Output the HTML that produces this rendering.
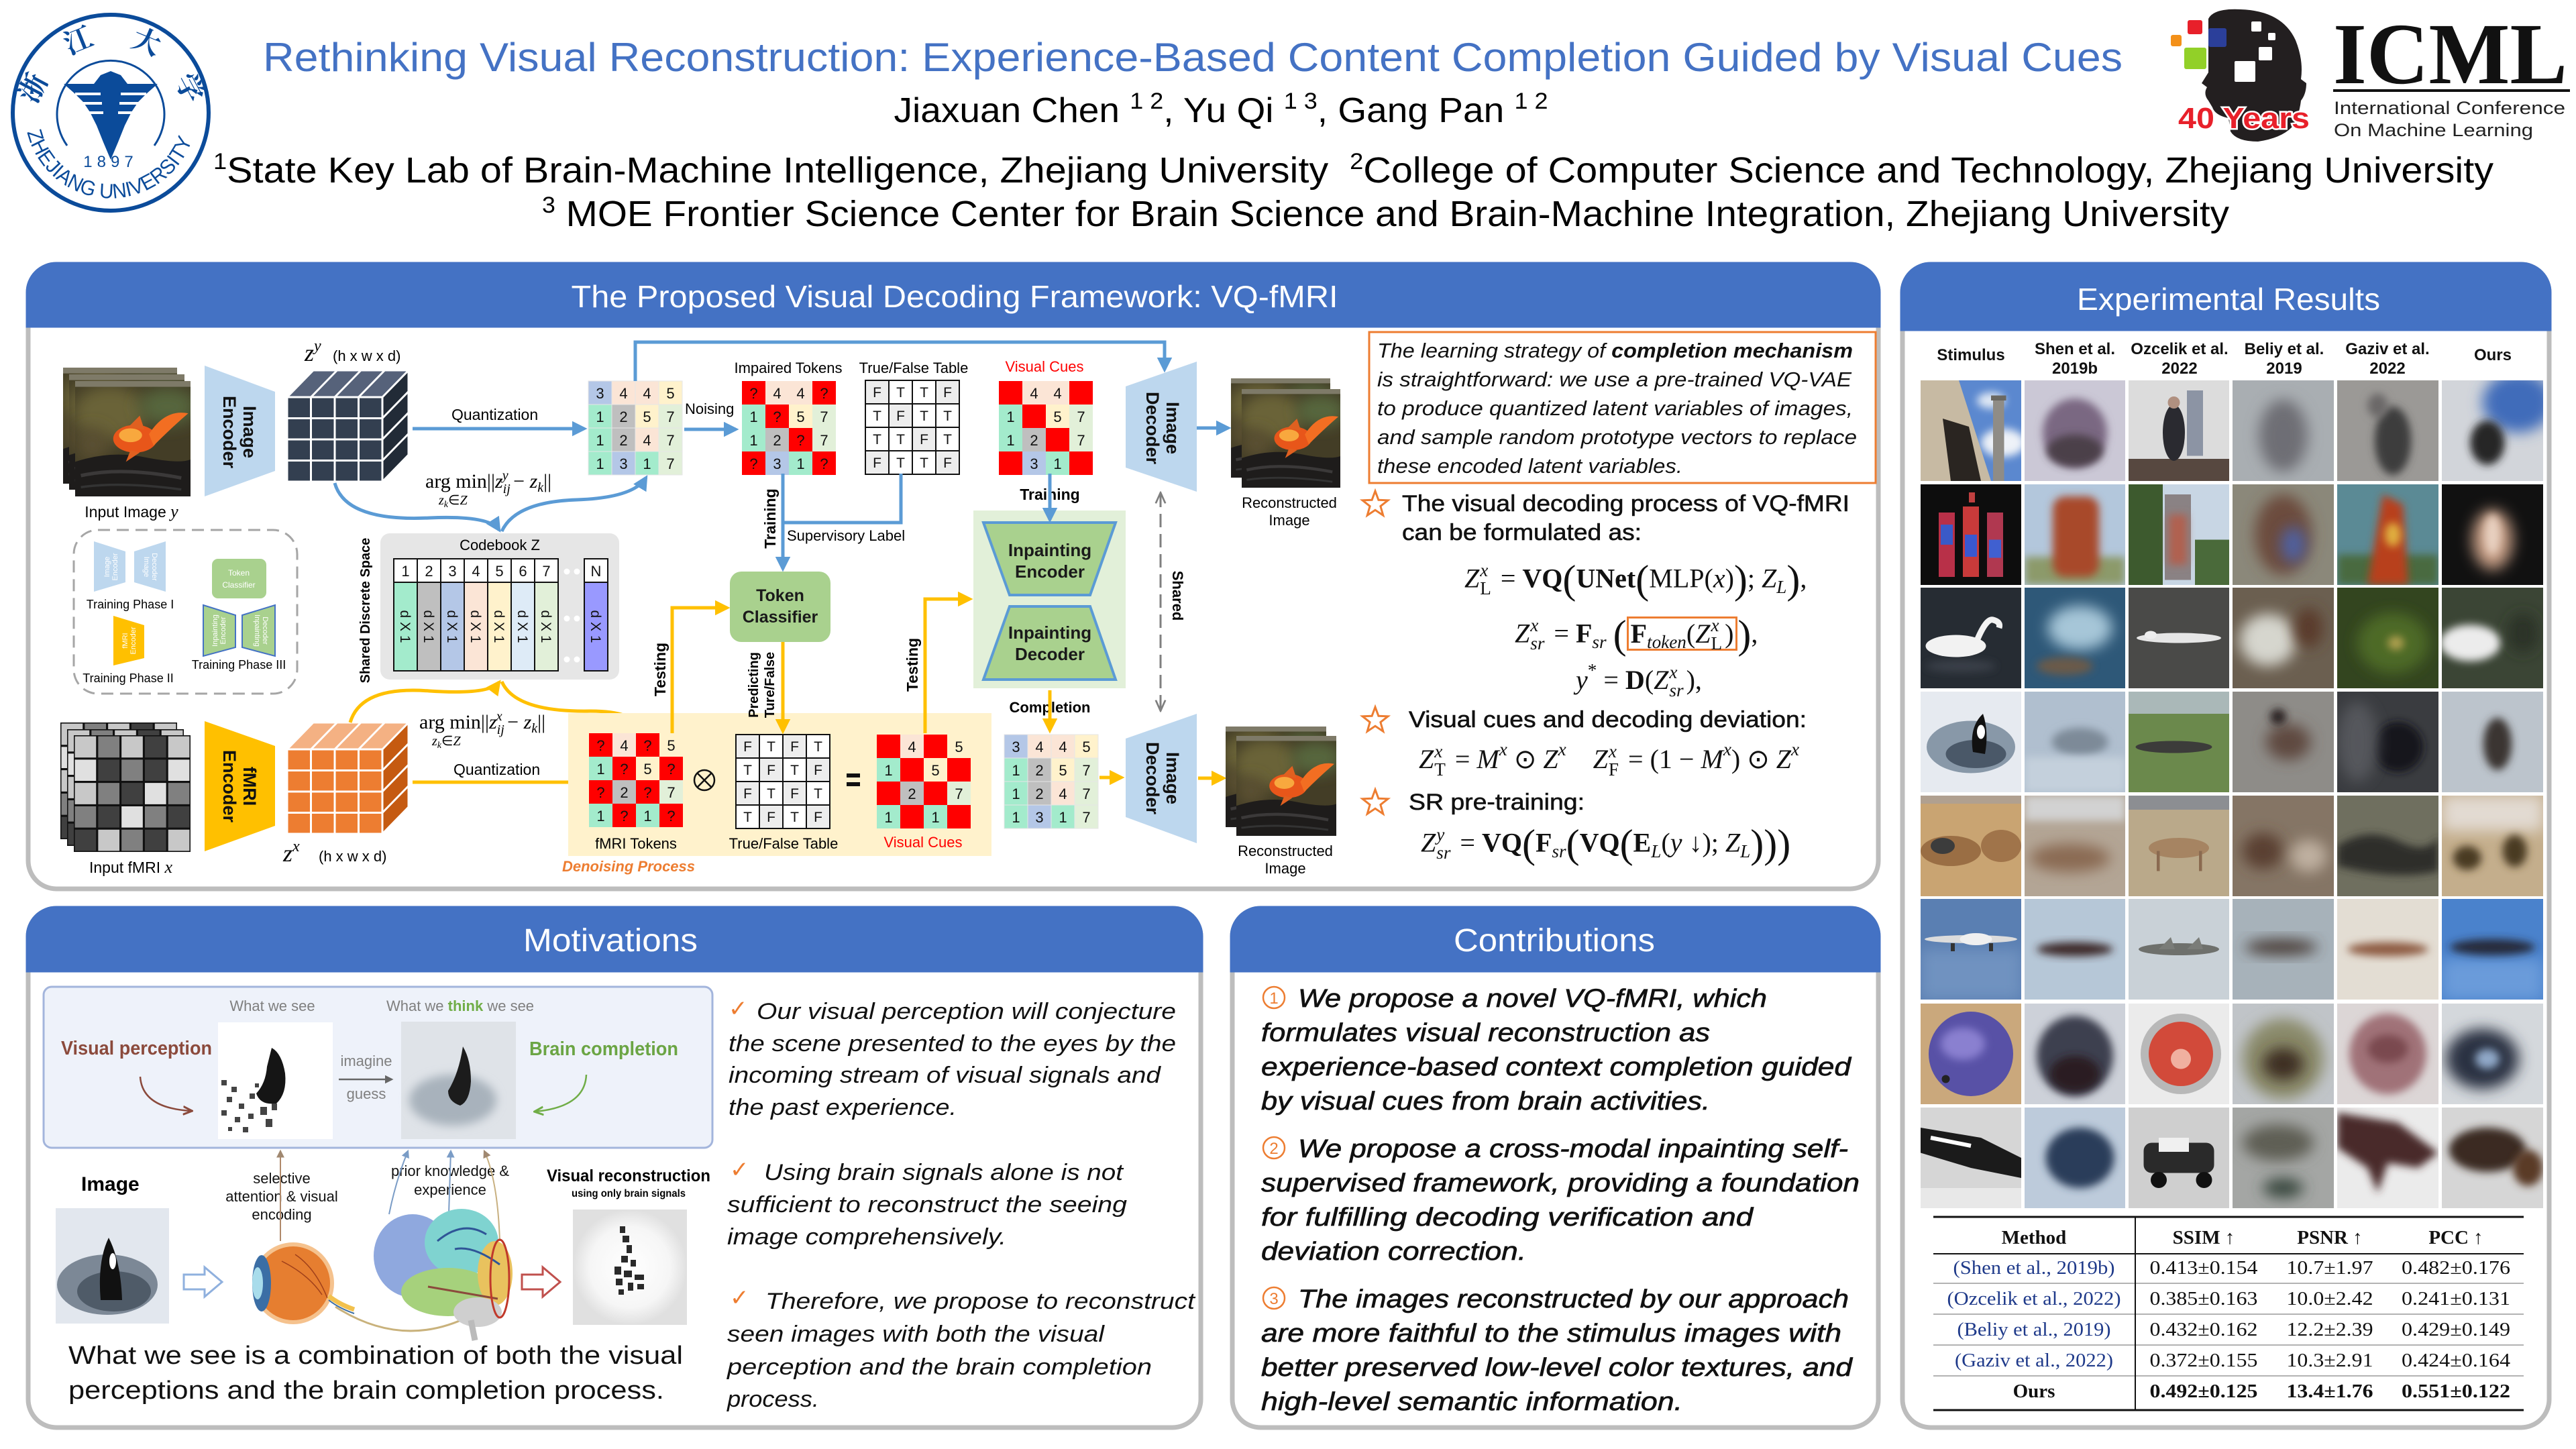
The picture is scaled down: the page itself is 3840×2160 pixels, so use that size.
<!DOCTYPE html>
<html><head><meta charset="utf-8">
<style>
html,body{margin:0;padding:0;background:#fff;}
#root{position:relative;width:3840px;height:2160px;overflow:hidden;background:#fff;font-family:"Liberation Sans",sans-serif;}
svg#main{position:absolute;left:0;top:0;}
.eq{position:absolute;font-family:"Liberation Serif",serif;font-size:40px;white-space:nowrap;color:#111;line-height:1;}
.eq i{font-style:italic}
.eq b{font-weight:bold}
.ss{display:inline-block;vertical-align:-0.4em;font-size:0.68em;line-height:1.0;margin-left:1px;margin-right:4px;text-align:left}
.ss span{display:block}
.bp{font-size:1.5em;vertical-align:-0.14em;font-weight:normal;font-style:normal}
.sb{font-size:0.68em;vertical-align:-0.3em}
.sp{font-size:0.68em;vertical-align:0.7em}
</style></head>
<body><div id="root">
<svg id="main" width="3840" height="2160" viewBox="0 0 3840 2160" font-family="Liberation Sans, sans-serif">
<defs>
<filter id="b4" x="-50%" y="-50%" width="200%" height="200%"><feGaussianBlur stdDeviation="4"/></filter>
<filter id="b6" x="-50%" y="-50%" width="200%" height="200%"><feGaussianBlur stdDeviation="7"/></filter>
<filter id="b3" x="-50%" y="-50%" width="200%" height="200%"><feGaussianBlur stdDeviation="3"/></filter>
<marker id="mb" viewBox="0 0 10 10" refX="8" refY="5" markerWidth="4.5" markerHeight="4.5" orient="auto"><path d="M0,0L10,5L0,10z" fill="#5B9BD5"/></marker>
<marker id="my" viewBox="0 0 10 10" refX="8" refY="5" markerWidth="4.5" markerHeight="4.5" orient="auto"><path d="M0,0L10,5L0,10z" fill="#FFC000"/></marker>
<marker id="mg" viewBox="0 0 10 10" refX="8" refY="5" markerWidth="6" markerHeight="6" orient="auto-start-reverse"><path d="M0,1L9,5L0,9" fill="none" stroke="#7F7F7F" stroke-width="1.5"/></marker>
<marker id="mgr" viewBox="0 0 10 10" refX="8" refY="5" markerWidth="5" markerHeight="5" orient="auto"><path d="M0,0L10,5L0,10z" fill="#666"/></marker>
<marker id="mbr" viewBox="0 0 10 10" refX="8" refY="5" markerWidth="6" markerHeight="6" orient="auto"><path d="M0,1L9,5L0,9" fill="none" stroke="#8B4A3C" stroke-width="2"/></marker>
<marker id="mgn" viewBox="0 0 10 10" refX="8" refY="5" markerWidth="6" markerHeight="6" orient="auto"><path d="M0,1L9,5L0,9" fill="none" stroke="#70AD47" stroke-width="2"/></marker>
<marker id="mt" viewBox="0 0 10 10" refX="8" refY="5" markerWidth="6" markerHeight="6" orient="auto"><path d="M0,0L10,5L0,10z" fill="#A08870"/></marker>
<marker id="mt2" viewBox="0 0 10 10" refX="8" refY="5" markerWidth="6" markerHeight="6" orient="auto"><path d="M0,0L10,5L0,10z" fill="#7A9CC6"/></marker>
<path id="star" d="M0,-20 L4.9,-6.7 L19,-6.2 L7.9,2.6 L11.8,16.2 L0,8.3 L-11.8,16.2 L-7.9,2.6 L-19,-6.2 L-4.9,-6.7 Z" fill="none" stroke="#ED7D31" stroke-width="3"/>
<symbol id="fish" viewBox="0 0 100 100" preserveAspectRatio="none">
<rect width="100" height="100" fill="#433d26"/>
<ellipse cx="30" cy="28" rx="32" ry="24" fill="#6a6438" filter="url(#b6)"/>
<ellipse cx="80" cy="22" rx="25" ry="16" fill="#56663e" filter="url(#b6)"/>
<ellipse cx="15" cy="55" rx="15" ry="15" fill="#5a5030" filter="url(#b6)"/>
<path d="M0,70 Q30,60 60,66 T100,68 V100 H0 Z" fill="#1e1c1b"/>
<path d="M5,82 Q40,74 92,84" stroke="#3b3939" stroke-width="3" fill="none"/>
<path d="M5,92 Q40,87 92,94" stroke="#333" stroke-width="2" fill="none"/>
<ellipse cx="52" cy="50" rx="19" ry="12" fill="#e8561a"/>
<ellipse cx="48" cy="47" rx="10" ry="6" fill="#f8a83e"/>
<path d="M64,46 Q78,24 98,28 Q84,40 68,56 Z" fill="#f26e22"/>
<path d="M46,40 L56,30 L60,42 Z" fill="#e06020"/>
<path d="M48,60 L44,70 L56,62 Z" fill="#e06020"/>
<rect width="100" height="5" fill="#7e7a68"/>
</symbol>
<symbol id="fm" viewBox="0 0 5 5" preserveAspectRatio="none">
<rect x="0" y="0" width="1" height="1" fill="#c8c8c8"/><rect x="1" y="0" width="1" height="1" fill="#808080"/><rect x="2" y="0" width="1" height="1" fill="#c8c8c8"/><rect x="3" y="0" width="1" height="1" fill="#404040"/><rect x="4" y="0" width="1" height="1" fill="#c8c8c8"/>
<rect x="0" y="1" width="1" height="1" fill="#e0e0e0"/><rect x="1" y="1" width="1" height="1" fill="#404040"/><rect x="2" y="1" width="1" height="1" fill="#808080"/><rect x="3" y="1" width="1" height="1" fill="#404040"/><rect x="4" y="1" width="1" height="1" fill="#e0e0e0"/>
<rect x="0" y="2" width="1" height="1" fill="#c8c8c8"/><rect x="1" y="2" width="1" height="1" fill="#808080"/><rect x="2" y="2" width="1" height="1" fill="#404040"/><rect x="3" y="2" width="1" height="1" fill="#e0e0e0"/><rect x="4" y="2" width="1" height="1" fill="#808080"/>
<rect x="0" y="3" width="1" height="1" fill="#808080"/><rect x="1" y="3" width="1" height="1" fill="#404040"/><rect x="2" y="3" width="1" height="1" fill="#e0e0e0"/><rect x="3" y="3" width="1" height="1" fill="#808080"/><rect x="4" y="3" width="1" height="1" fill="#404040"/>
<rect x="0" y="4" width="1" height="1" fill="#404040"/><rect x="1" y="4" width="1" height="1" fill="#c8c8c8"/><rect x="2" y="4" width="1" height="1" fill="#808080"/><rect x="3" y="4" width="1" height="1" fill="#404040"/><rect x="4" y="4" width="1" height="1" fill="#c8c8c8"/>
<path d="M0,0H5V5H0Z M1,0V5 M2,0V5 M3,0V5 M4,0V5 M0,1H5 M0,2H5 M0,3H5 M0,4H5" fill="none" stroke="#111" stroke-width="0.09"/>
</symbol>
<radialGradient id="rg" cx="50%" cy="50%" r="50%"><stop offset="0" stop-color="#ffffff"/><stop offset="0.7" stop-color="#f6f6f6"/><stop offset="1" stop-color="#e0e0e0"/></radialGradient>
</defs>

<!-- ================= HEADER ================= -->
<g>
<circle cx="165" cy="168" r="146" fill="none" stroke="#0B4B9A" stroke-width="6"/>
<path d="M100,217 A80,80 0 1 1 230,217" fill="none" stroke="#0B4B9A" stroke-width="3"/>
<path d="M95,125 L140,125 L150,112 L165,106 L180,112 L190,125 L235,125 L218,140 L206,152 L196,167 L186,187 L176,212 L165,238 L154,212 L144,187 L134,167 L124,152 L112,140 Z" fill="#0B4B9A"/>
<path d="M112,140 L150,140 M122,154 L152,154 M132,168 L154,168 M180,140 L218,140 M178,154 L208,154 M176,168 L198,168" stroke="#fff" stroke-width="4"/>
<g font-family="Noto Serif CJK SC, Noto Sans CJK SC, serif" font-weight="bold" font-size="42" fill="#0B4B9A" text-anchor="middle">
<text transform="translate(62,138) rotate(-62)">浙</text>
<text transform="translate(122,74) rotate(-22)">江</text>
<text transform="translate(213,76) rotate(22)">大</text>
<text transform="translate(270,138) rotate(62)">学</text>
</g>
<path id="zjuarc" d="M40,195 A128,128 0 0 0 290,195" fill="none"/>
<text font-size="31" fill="#0B4B9A" font-family="Liberation Sans Narrow, Liberation Sans, sans-serif"><textPath href="#zjuarc" startOffset="2" textLength="330" lengthAdjust="spacingAndGlyphs">ZHEJIANG UNIVERSITY</textPath></text>
<text x="165" y="249" text-anchor="middle" font-size="24" fill="#0B4B9A" letter-spacing="7">1897</text>
</g>

<text x="1778" y="106" text-anchor="middle" font-size="60" fill="#4472C4" textLength="2772" lengthAdjust="spacingAndGlyphs">Rethinking Visual Reconstruction: Experience-Based Content Completion Guided by Visual Cues</text>
<text x="1820" y="182" text-anchor="middle" font-size="52" fill="#000" textLength="975" lengthAdjust="spacingAndGlyphs">Jiaxuan Chen <tspan font-size="34" dy="-20">1 2</tspan><tspan dy="20">, Yu Qi </tspan><tspan font-size="34" dy="-20">1 3</tspan><tspan dy="20">, Gang Pan </tspan><tspan font-size="34" dy="-20">1 2</tspan></text>
<text x="318" y="272" font-size="54" fill="#000" textLength="3399" lengthAdjust="spacingAndGlyphs"><tspan font-size="34" dy="-20">1</tspan><tspan dy="20">State Key Lab of Brain-Machine Intelligence, Zhejiang University&#160; </tspan><tspan font-size="34" dy="-20">2</tspan><tspan dy="20">College of Computer Science and Technology, Zhejiang University</tspan></text>
<text x="808" y="337" font-size="54" fill="#000" textLength="2515" lengthAdjust="spacingAndGlyphs"><tspan font-size="34" dy="-20">3</tspan><tspan dy="20"> MOE Frontier Science Center for Brain Science and Brain-Machine Integration, Zhejiang University</tspan></text>

<!-- ICML logo -->
<g>
<path d="M3292,28 Q3300,12 3340,14 Q3402,16 3422,60 Q3434,90 3430,118 L3438,124 Q3438,140 3430,150 Q3427,175 3416,190 Q3400,206 3366,211 Q3334,211 3325,196 L3322,176 Q3302,172 3298,160 L3292,150 Q3284,140 3290,130 L3282,124 L3292,108 Z" fill="#231F20"/>
<rect x="3356" y="32" width="15" height="15" rx="2" fill="#fff"/>
<rect x="3381" y="49" width="11" height="11" rx="2" fill="#fff"/>
<rect x="3367" y="70" width="20" height="20" rx="2" fill="#fff"/>
<rect x="3331" y="91" width="31" height="31" rx="2" fill="#fff"/>
<rect x="3261" y="30" width="22" height="21" rx="3" fill="#E8202A"/>
<rect x="3292" y="42" width="27" height="28" rx="3" fill="#2B3F9A"/>
<rect x="3236" y="52" width="16" height="17" rx="3" fill="#F39019"/>
<rect x="3256" y="71" width="33" height="32" rx="3" fill="#92D028"/>
<text x="3247" y="191" font-size="44" font-weight="bold" fill="#E8202A" stroke="#fff" stroke-width="5" paint-order="stroke" textLength="196" lengthAdjust="spacingAndGlyphs">40 Years</text>
<text x="3478" y="124" font-family="Liberation Serif, serif" font-weight="bold" font-size="130" fill="#111" textLength="349" lengthAdjust="spacingAndGlyphs">ICML</text>
<rect x="3478" y="133" width="353" height="4" fill="#111"/>
<text x="3479" y="170" font-size="27" fill="#222" textLength="345" lengthAdjust="spacingAndGlyphs">International Conference</text>
<text x="3479" y="203" font-size="27" fill="#222" textLength="297" lengthAdjust="spacingAndGlyphs">On Machine Learning</text>
</g>

<!-- ================= PANELS ================= -->
<rect x="42" y="394" width="2758" height="931" rx="42" fill="#fff" stroke="#BDBDBD" stroke-width="7"/>
<path d="M42,485 V436 A42,42 0 0 1 84,394 H2758 A42,42 0 0 1 2800,436 V485 Z" fill="#4472C4" stroke="#4472C4" stroke-width="7"/>
<text x="1423" y="458" text-anchor="middle" font-size="46" fill="#fff" textLength="1143" lengthAdjust="spacingAndGlyphs">The Proposed Visual Decoding Framework: VQ-fMRI</text>

<rect x="2836" y="394" width="964" height="1734" rx="42" fill="#fff" stroke="#BDBDBD" stroke-width="7"/>
<path d="M2836,490 V436 A42,42 0 0 1 2878,394 H3758 A42,42 0 0 1 3800,436 V490 Z" fill="#4472C4" stroke="#4472C4" stroke-width="7"/>
<text x="3322" y="462" text-anchor="middle" font-size="46" fill="#fff" textLength="452" lengthAdjust="spacingAndGlyphs">Experimental Results</text>

<rect x="42" y="1354" width="1748" height="774" rx="42" fill="#fff" stroke="#BDBDBD" stroke-width="7"/>
<path d="M42,1446 V1396 A42,42 0 0 1 84,1354 H1748 A42,42 0 0 1 1790,1396 V1446 Z" fill="#4472C4" stroke="#4472C4" stroke-width="7"/>
<text x="910" y="1418" text-anchor="middle" font-size="48" fill="#fff" textLength="260" lengthAdjust="spacingAndGlyphs">Motivations</text>

<rect x="1837" y="1354" width="963" height="774" rx="42" fill="#fff" stroke="#BDBDBD" stroke-width="7"/>
<path d="M1837,1446 V1396 A42,42 0 0 1 1879,1354 H2758 A42,42 0 0 1 2800,1396 V1446 Z" fill="#4472C4" stroke="#4472C4" stroke-width="7"/>
<text x="2317" y="1418" text-anchor="middle" font-size="48" fill="#fff" textLength="300" lengthAdjust="spacingAndGlyphs">Contributions</text>

<!-- ================= FRAMEWORK DIAGRAM ================= -->
<use href="#fish" x="94" y="548" width="170" height="173"/>
<use href="#fish" x="103" y="558" width="172" height="172"/>
<use href="#fish" x="112" y="568" width="172" height="172"/>
<text x="196" y="771" text-anchor="middle" font-size="23">Input Image <tspan font-family="Liberation Serif, serif" font-style="italic" font-size="26">y</tspan></text>

<polygon points="305,545 410,584 410,702 305,740" fill="#BDD7EE"/>
<g transform="translate(357,644) rotate(90)" font-size="27" font-weight="bold" text-anchor="middle" fill="#111"><text y="-6">Image</text><text y="24">Encoder</text></g>

<polygon points="428,592 467,552 609,552 570,592" fill="#56627A"/>
<polygon points="570,592 609,552 609,678 570,718" fill="#222B37"/>
<rect x="428" y="592" width="142" height="126" fill="#333F50"/>
<g stroke="#fff" stroke-width="3" fill="none">
<path d="M428,592H570V718H428Z M463.5,592V718 M499,592V718 M534.5,592V718 M428,623.5H570 M428,655H570 M428,686.5H570"/>
<path d="M428,592L467,552H609L570,592 M463.5,592L502.5,552 M499,592L538,552 M534.5,592L573.5,552"/>
<path d="M609,552V678L570,718 M570,623.5L609,583.5 M570,655L609,615 M570,686.5L609,646.5"/>
</g>
<text x="454" y="538" font-family="Liberation Serif, serif" font-style="italic" font-size="36">z<tspan font-size="24" dy="-15">y</tspan></text>
<text x="496" y="538" font-size="22">(h x w x d)</text>

<text x="673" y="626" font-size="23">Quantization</text>
<line x1="615" y1="639" x2="871" y2="639" stroke="#5B9BD5" stroke-width="5" marker-end="url(#mb)"/>

<text x="634" y="727" font-family="Liberation Serif, serif" font-size="30">arg min||<tspan font-style="italic">z</tspan><tspan font-size="20" dy="8" font-style="italic">ij</tspan><tspan font-size="20" dx="-12" dy="-20" font-style="italic">y</tspan><tspan dy="12"> − </tspan><tspan font-style="italic">z</tspan><tspan font-size="20" dy="6" font-style="italic">k</tspan><tspan dy="-6">||</tspan></text>
<text x="654" y="752" font-family="Liberation Serif, serif" font-size="20" font-style="italic">z<tspan font-size="14" dy="4">k</tspan><tspan dy="-4" font-style="normal">∈</tspan>Z</text>
<path d="M499,720 Q515,778 640,772 Q730,768 744,790" stroke="#5B9BD5" stroke-width="5" fill="none" marker-end="url(#mb)"/>
<path d="M748,792 Q768,748 860,745 Q945,742 963,712" stroke="#5B9BD5" stroke-width="5" fill="none" marker-end="url(#mb)"/>

<g font-size="22" text-anchor="middle" fill="#111" stroke-width="1">
<rect x="877" y="568" width="35" height="35" fill="#B4C7E7" stroke="#e6e6e6"/><text x="894.5" y="594">3</text>
<rect x="912" y="568" width="35" height="35" fill="#FBE5D6" stroke="#e6e6e6"/><text x="929.5" y="594">4</text>
<rect x="947" y="568" width="35" height="35" fill="#FBE5D6" stroke="#e6e6e6"/><text x="964.5" y="594">4</text>
<rect x="982" y="568" width="35" height="35" fill="#FFF2CC" stroke="#e6e6e6"/><text x="999.5" y="594">5</text>
<rect x="877" y="603" width="35" height="35" fill="#A3EBCC" stroke="#e6e6e6"/><text x="894.5" y="629">1</text>
<rect x="912" y="603" width="35" height="35" fill="#BFBFBF" stroke="#e6e6e6"/><text x="929.5" y="629">2</text>
<rect x="947" y="603" width="35" height="35" fill="#FFF2CC" stroke="#e6e6e6"/><text x="964.5" y="629">5</text>
<rect x="982" y="603" width="35" height="35" fill="#E2F0D9" stroke="#e6e6e6"/><text x="999.5" y="629">7</text>
<rect x="877" y="638" width="35" height="35" fill="#A3EBCC" stroke="#e6e6e6"/><text x="894.5" y="664">1</text>
<rect x="912" y="638" width="35" height="35" fill="#BFBFBF" stroke="#e6e6e6"/><text x="929.5" y="664">2</text>
<rect x="947" y="638" width="35" height="35" fill="#FBE5D6" stroke="#e6e6e6"/><text x="964.5" y="664">4</text>
<rect x="982" y="638" width="35" height="35" fill="#E2F0D9" stroke="#e6e6e6"/><text x="999.5" y="664">7</text>
<rect x="877" y="673" width="35" height="35" fill="#A3EBCC" stroke="#e6e6e6"/><text x="894.5" y="699">1</text>
<rect x="912" y="673" width="35" height="35" fill="#B4C7E7" stroke="#e6e6e6"/><text x="929.5" y="699">3</text>
<rect x="947" y="673" width="35" height="35" fill="#A3EBCC" stroke="#e6e6e6"/><text x="964.5" y="699">1</text>
<rect x="982" y="673" width="35" height="35" fill="#E2F0D9" stroke="#e6e6e6"/><text x="999.5" y="699">7</text>
</g>

<path d="M947,568 V510 H1736 V551" stroke="#5B9BD5" stroke-width="5" fill="none" marker-end="url(#mb)"/>

<text x="1021" y="617" font-size="22">Noising</text>
<line x1="1020" y1="640" x2="1097" y2="640" stroke="#5B9BD5" stroke-width="5" marker-end="url(#mb)"/>

<text x="1175" y="556" text-anchor="middle" font-size="22">Impaired Tokens</text>
<g font-size="22" text-anchor="middle" fill="#111">
<rect x="1106" y="568" width="35" height="35" fill="#FF0000"/><text x="1123.5" y="594">?</text>
<rect x="1141" y="568" width="35" height="35" fill="#FBE5D6"/><text x="1158.5" y="594">4</text>
<rect x="1176" y="568" width="35" height="35" fill="#FBE5D6"/><text x="1193.5" y="594">4</text>
<rect x="1211" y="568" width="35" height="35" fill="#FF0000"/><text x="1228.5" y="594">?</text>
<rect x="1106" y="603" width="35" height="35" fill="#A3EBCC"/><text x="1123.5" y="629">1</text>
<rect x="1141" y="603" width="35" height="35" fill="#FF0000"/><text x="1158.5" y="629">?</text>
<rect x="1176" y="603" width="35" height="35" fill="#FFF2CC"/><text x="1193.5" y="629">5</text>
<rect x="1211" y="603" width="35" height="35" fill="#E2F0D9"/><text x="1228.5" y="629">7</text>
<rect x="1106" y="638" width="35" height="35" fill="#A3EBCC"/><text x="1123.5" y="664">1</text>
<rect x="1141" y="638" width="35" height="35" fill="#BFBFBF"/><text x="1158.5" y="664">2</text>
<rect x="1176" y="638" width="35" height="35" fill="#FF0000"/><text x="1193.5" y="664">?</text>
<rect x="1211" y="638" width="35" height="35" fill="#E2F0D9"/><text x="1228.5" y="664">7</text>
<rect x="1106" y="673" width="35" height="35" fill="#FF0000"/><text x="1123.5" y="699">?</text>
<rect x="1141" y="673" width="35" height="35" fill="#B4C7E7"/><text x="1158.5" y="699">3</text>
<rect x="1176" y="673" width="35" height="35" fill="#A3EBCC"/><text x="1193.5" y="699">1</text>
<rect x="1211" y="673" width="35" height="35" fill="#FF0000"/><text x="1228.5" y="699">?</text>
</g>

<text x="1362" y="556" text-anchor="middle" font-size="22">True/False Table</text>
<g font-size="21" text-anchor="middle" fill="#111" stroke="#111" stroke-width="2">
<rect x="1290" y="567" width="35" height="35" fill="#EDEDED"/><rect x="1325" y="567" width="35" height="35" fill="#fff"/><rect x="1360" y="567" width="35" height="35" fill="#fff"/><rect x="1395" y="567" width="35" height="35" fill="#EDEDED"/>
<rect x="1290" y="602" width="35" height="35" fill="#fff"/><rect x="1325" y="602" width="35" height="35" fill="#EDEDED"/><rect x="1360" y="602" width="35" height="35" fill="#fff"/><rect x="1395" y="602" width="35" height="35" fill="#fff"/>
<rect x="1290" y="637" width="35" height="35" fill="#fff"/><rect x="1325" y="637" width="35" height="35" fill="#fff"/><rect x="1360" y="637" width="35" height="35" fill="#EDEDED"/><rect x="1395" y="637" width="35" height="35" fill="#fff"/>
<rect x="1290" y="672" width="35" height="35" fill="#EDEDED"/><rect x="1325" y="672" width="35" height="35" fill="#fff"/><rect x="1360" y="672" width="35" height="35" fill="#fff"/><rect x="1395" y="672" width="35" height="35" fill="#EDEDED"/>
</g>
<g font-size="21" text-anchor="middle" fill="#111">
<text x="1307.5" y="592">F</text><text x="1342.5" y="592">T</text><text x="1377.5" y="592">T</text><text x="1412.5" y="592">F</text>
<text x="1307.5" y="627">T</text><text x="1342.5" y="627">F</text><text x="1377.5" y="627">T</text><text x="1412.5" y="627">T</text>
<text x="1307.5" y="662">T</text><text x="1342.5" y="662">T</text><text x="1377.5" y="662">F</text><text x="1412.5" y="662">T</text>
<text x="1307.5" y="697">F</text><text x="1342.5" y="697">T</text><text x="1377.5" y="697">T</text><text x="1412.5" y="697">F</text>
</g>

<text x="1557" y="554" text-anchor="middle" font-size="22" fill="#FF0000">Visual Cues</text>
<g font-size="22" text-anchor="middle" fill="#111">
<rect x="1489" y="568" width="35" height="35" fill="#FF0000"/>
<rect x="1524" y="568" width="35" height="35" fill="#FBE5D6"/><text x="1541.5" y="594">4</text>
<rect x="1559" y="568" width="35" height="35" fill="#FBE5D6"/><text x="1576.5" y="594">4</text>
<rect x="1594" y="568" width="35" height="35" fill="#FF0000"/>
<rect x="1489" y="603" width="35" height="35" fill="#A3EBCC"/><text x="1506.5" y="629">1</text>
<rect x="1524" y="603" width="35" height="35" fill="#FF0000"/>
<rect x="1559" y="603" width="35" height="35" fill="#FFF2CC"/><text x="1576.5" y="629">5</text>
<rect x="1594" y="603" width="35" height="35" fill="#E2F0D9"/><text x="1611.5" y="629">7</text>
<rect x="1489" y="638" width="35" height="35" fill="#A3EBCC"/><text x="1506.5" y="664">1</text>
<rect x="1524" y="638" width="35" height="35" fill="#BFBFBF"/><text x="1541.5" y="664">2</text>
<rect x="1559" y="638" width="35" height="35" fill="#FF0000"/>
<rect x="1594" y="638" width="35" height="35" fill="#E2F0D9"/><text x="1611.5" y="664">7</text>
<rect x="1489" y="673" width="35" height="35" fill="#FF0000"/>
<rect x="1524" y="673" width="35" height="35" fill="#B4C7E7"/><text x="1541.5" y="699">3</text>
<rect x="1559" y="673" width="35" height="35" fill="#A3EBCC"/><text x="1576.5" y="699">1</text>
<rect x="1594" y="673" width="35" height="35" fill="#FF0000"/>
</g>

<polygon points="1678,576 1784,539 1784,733 1678,697" fill="#BDD7EE"/>
<g transform="translate(1733,638) rotate(90)" font-size="27" font-weight="bold" text-anchor="middle" fill="#111"><text y="-6">Image</text><text y="24">Decoder</text></g>
<line x1="1784" y1="638" x2="1831" y2="638" stroke="#5B9BD5" stroke-width="5" marker-end="url(#mb)"/>
<use href="#fish" x="1835" y="564" width="148" height="148"/>
<use href="#fish" x="1851" y="580" width="147" height="147"/>
<text x="1922" y="757" text-anchor="middle" font-size="22">Reconstructed</text>
<text x="1922" y="783" text-anchor="middle" font-size="22">Image</text>

<rect x="567" y="795" width="356" height="218" rx="14" fill="#E6E6E6"/>
<text x="745" y="820" text-anchor="middle" font-size="22">Codebook Z</text>
<g stroke="#111" stroke-width="2">
<rect x="587" y="833" width="35" height="35" fill="#fff"/><rect x="622" y="833" width="35" height="35" fill="#fff"/><rect x="657" y="833" width="35" height="35" fill="#fff"/><rect x="692" y="833" width="35" height="35" fill="#fff"/><rect x="727" y="833" width="35" height="35" fill="#fff"/><rect x="762" y="833" width="35" height="35" fill="#fff"/><rect x="797" y="833" width="35" height="35" fill="#fff"/><rect x="871" y="833" width="35" height="35" fill="#fff"/>
<rect x="587" y="868" width="35" height="132" fill="#A3EBCC"/><rect x="622" y="868" width="35" height="132" fill="#BFBFBF"/><rect x="657" y="868" width="35" height="132" fill="#B4C7E7"/><rect x="692" y="868" width="35" height="132" fill="#FBE5D6"/><rect x="727" y="868" width="35" height="132" fill="#FFF2CC"/><rect x="762" y="868" width="35" height="132" fill="#DEEBF7"/><rect x="797" y="868" width="35" height="132" fill="#E2F0D9"/><rect x="871" y="868" width="35" height="132" fill="#9999FF"/>
</g>
<g font-size="22" text-anchor="middle" fill="#111">
<text x="604.5" y="859">1</text><text x="639.5" y="859">2</text><text x="674.5" y="859">3</text><text x="709.5" y="859">4</text><text x="744.5" y="859">5</text><text x="779.5" y="859">6</text><text x="814.5" y="859">7</text><text x="888.5" y="859">N</text>
</g>
<g font-size="21" text-anchor="middle" fill="#111">
<text transform="translate(597,934) rotate(90)">d X 1</text><text transform="translate(632,934) rotate(90)">d X 1</text><text transform="translate(667,934) rotate(90)">d X 1</text><text transform="translate(702,934) rotate(90)">d X 1</text><text transform="translate(737,934) rotate(90)">d X 1</text><text transform="translate(772,934) rotate(90)">d X 1</text><text transform="translate(807,934) rotate(90)">d X 1</text><text transform="translate(881,934) rotate(90)">d X 1</text>
</g>
<g fill="#fff"><circle cx="845" cy="852" r="4.5"/><circle cx="860" cy="852" r="4.5"/><circle cx="845" cy="922" r="4.5"/><circle cx="860" cy="922" r="4.5"/><circle cx="845" cy="983" r="4.5"/><circle cx="860" cy="983" r="4.5"/></g>
<text transform="translate(551,910) rotate(-90)" text-anchor="middle" font-size="20" font-weight="bold">Shared Discrete Space</text>

<rect x="110" y="790" width="333" height="244" rx="36" fill="none" stroke="#A6A6A6" stroke-width="3" stroke-dasharray="18 10"/>
<polygon points="140,807 187,822 187,868 140,882" fill="#BDD7EE"/>
<polygon points="200,822 247,807 247,882 200,868" fill="#BDD7EE"/>
<g font-size="11" fill="#fff" text-anchor="middle"><text transform="translate(163,845) rotate(-90)">Image</text><text transform="translate(175,845) rotate(-90)">Encoder</text><text transform="translate(215,845) rotate(90)">Image</text><text transform="translate(227,845) rotate(90)">Decoder</text></g>
<text x="194" y="907" text-anchor="middle" font-size="18">Training Phase I</text>
<rect x="316" y="833" width="81" height="59" rx="9" fill="#A9D18E"/>
<text x="356" y="858" text-anchor="middle" font-size="12" fill="#fff">Token</text><text x="356" y="876" text-anchor="middle" font-size="12" fill="#fff">Classifier</text>
<polygon points="303,902 351,917 351,965 303,978" fill="#A9D18E" stroke="#4472C4" stroke-width="2"/>
<polygon points="361,917 410,902 410,978 361,965" fill="#A9D18E" stroke="#4472C4" stroke-width="2"/>
<g font-size="11" fill="#fff" text-anchor="middle"><text transform="translate(324,940) rotate(-90)">Inpainting</text><text transform="translate(336,940) rotate(-90)">Encoder</text><text transform="translate(380,940) rotate(90)">Inpainting</text><text transform="translate(392,940) rotate(90)">Decoder</text></g>
<text x="356" y="997" text-anchor="middle" font-size="18">Training Phase III</text>
<polygon points="169,918 215,932 215,981 169,992" fill="#FFC000"/>
<g font-size="11" fill="#fff" text-anchor="middle"><text transform="translate(190,955) rotate(-90)">fMRI</text><text transform="translate(202,955) rotate(-90)">Encoder</text></g>
<text x="191" y="1017" text-anchor="middle" font-size="18">Training Phase II</text>

<use href="#fm" x="90" y="1077" width="174" height="174"/>
<use href="#fm" x="100" y="1087" width="174" height="174"/>
<use href="#fm" x="110" y="1096" width="174" height="174"/>
<text x="195" y="1301" text-anchor="middle" font-size="23">Input fMRI <tspan font-family="Liberation Serif, serif" font-style="italic" font-size="26">x</tspan></text>

<polygon points="305,1075 410,1112 410,1231 305,1269" fill="#FFC000"/>
<g transform="translate(357,1172) rotate(90)" font-size="27" font-weight="bold" text-anchor="middle" fill="#111"><text y="-6">fMRI</text><text y="24">Encoder</text></g>

<polygon points="428,1117 467,1077 609,1077 570,1117" fill="#F4B183"/>
<polygon points="570,1117 609,1077 609,1203 570,1243" fill="#C55A11"/>
<rect x="428" y="1117" width="142" height="126" fill="#ED7D31"/>
<g stroke="#fff" stroke-width="3" fill="none">
<path d="M428,1117H570V1243H428Z M463.5,1117V1243 M499,1117V1243 M534.5,1117V1243 M428,1148.5H570 M428,1180H570 M428,1211.5H570"/>
<path d="M428,1117L467,1077H609L570,1117 M463.5,1117L502.5,1077 M499,1117L538,1077 M534.5,1117L573.5,1077"/>
<path d="M609,1077V1203L570,1243 M570,1148.5L609,1108.5 M570,1180L609,1140 M570,1211.5L609,1171.5"/>
</g>
<text x="422" y="1284" font-family="Liberation Serif, serif" font-style="italic" font-size="36">z<tspan font-size="24" dy="-15">x</tspan></text>
<text x="475" y="1284" font-size="22">(h x w x d)</text>

<text x="625" y="1086" font-family="Liberation Serif, serif" font-size="30">arg min||<tspan font-style="italic">z</tspan><tspan font-size="20" dy="8" font-style="italic">ij</tspan><tspan font-size="20" dx="-12" dy="-20" font-style="italic">x</tspan><tspan dy="12"> − </tspan><tspan font-style="italic">z</tspan><tspan font-size="20" dy="6" font-style="italic">k</tspan><tspan dy="-6">||</tspan></text>
<text x="644" y="1111" font-family="Liberation Serif, serif" font-size="20" font-style="italic">z<tspan font-size="14" dy="4">k</tspan><tspan dy="-4" font-style="normal">∈</tspan>Z</text>
<path d="M522,1077 Q538,1022 640,1030 Q730,1036 744,1017" stroke="#FFC000" stroke-width="5" fill="none" marker-end="url(#my)"/>
<path d="M748,1016 Q768,1062 880,1060 Q948,1060 956,1089" stroke="#FFC000" stroke-width="5" fill="none" marker-end="url(#my)"/>
<text x="676" y="1155" font-size="23">Quantization</text>
<line x1="615" y1="1166" x2="874" y2="1166" stroke="#FFC000" stroke-width="5" marker-end="url(#my)"/>

<rect x="847" y="1063" width="631" height="213" fill="#FFF2CC"/>
<g font-size="22" text-anchor="middle" fill="#111">
<rect x="878" y="1093" width="35" height="35" fill="#FF0000"/><text x="895.5" y="1119">?</text>
<rect x="913" y="1093" width="35" height="35" fill="#FBE5D6"/><text x="930.5" y="1119">4</text>
<rect x="948" y="1093" width="35" height="35" fill="#FF0000"/><text x="965.5" y="1119">?</text>
<rect x="983" y="1093" width="35" height="35" fill="#FFF2CC"/><text x="1000.5" y="1119">5</text>
<rect x="878" y="1128" width="35" height="35" fill="#A3EBCC"/><text x="895.5" y="1154">1</text>
<rect x="913" y="1128" width="35" height="35" fill="#FF0000"/><text x="930.5" y="1154">?</text>
<rect x="948" y="1128" width="35" height="35" fill="#FFF2CC"/><text x="965.5" y="1154">5</text>
<rect x="983" y="1128" width="35" height="35" fill="#FF0000"/><text x="1000.5" y="1154">?</text>
<rect x="878" y="1163" width="35" height="35" fill="#FF0000"/><text x="895.5" y="1189">?</text>
<rect x="913" y="1163" width="35" height="35" fill="#BFBFBF"/><text x="930.5" y="1189">2</text>
<rect x="948" y="1163" width="35" height="35" fill="#FF0000"/><text x="965.5" y="1189">?</text>
<rect x="983" y="1163" width="35" height="35" fill="#E2F0D9"/><text x="1000.5" y="1189">7</text>
<rect x="878" y="1198" width="35" height="35" fill="#A3EBCC"/><text x="895.5" y="1224">1</text>
<rect x="913" y="1198" width="35" height="35" fill="#FF0000"/><text x="930.5" y="1224">?</text>
<rect x="948" y="1198" width="35" height="35" fill="#A3EBCC"/><text x="965.5" y="1224">1</text>
<rect x="983" y="1198" width="35" height="35" fill="#FF0000"/><text x="1000.5" y="1224">?</text>
</g>
<text x="948" y="1265" text-anchor="middle" font-size="22">fMRI Tokens</text>
<text x="937" y="1299" text-anchor="middle" font-size="22" font-style="italic" font-weight="bold" fill="#ED7D31">Denoising Process</text>
<circle cx="1050" cy="1163" r="15" fill="none" stroke="#111" stroke-width="2.5"/>
<path d="M1039.4,1152.4 L1060.6,1173.6 M1060.6,1152.4 L1039.4,1173.6" stroke="#111" stroke-width="2.5"/>

<g stroke="#111" stroke-width="2">
<rect x="1097" y="1095" width="35" height="35" fill="#EDEDED"/><rect x="1132" y="1095" width="35" height="35" fill="#fff"/><rect x="1167" y="1095" width="35" height="35" fill="#EDEDED"/><rect x="1202" y="1095" width="35" height="35" fill="#fff"/>
<rect x="1097" y="1130" width="35" height="35" fill="#fff"/><rect x="1132" y="1130" width="35" height="35" fill="#EDEDED"/><rect x="1167" y="1130" width="35" height="35" fill="#fff"/><rect x="1202" y="1130" width="35" height="35" fill="#EDEDED"/>
<rect x="1097" y="1165" width="35" height="35" fill="#EDEDED"/><rect x="1132" y="1165" width="35" height="35" fill="#fff"/><rect x="1167" y="1165" width="35" height="35" fill="#EDEDED"/><rect x="1202" y="1165" width="35" height="35" fill="#fff"/>
<rect x="1097" y="1200" width="35" height="35" fill="#fff"/><rect x="1132" y="1200" width="35" height="35" fill="#EDEDED"/><rect x="1167" y="1200" width="35" height="35" fill="#fff"/><rect x="1202" y="1200" width="35" height="35" fill="#EDEDED"/>
</g>
<g font-size="21" text-anchor="middle" fill="#111">
<text x="1114.5" y="1120">F</text><text x="1149.5" y="1120">T</text><text x="1184.5" y="1120">F</text><text x="1219.5" y="1120">T</text>
<text x="1114.5" y="1155">T</text><text x="1149.5" y="1155">F</text><text x="1184.5" y="1155">T</text><text x="1219.5" y="1155">F</text>
<text x="1114.5" y="1190">F</text><text x="1149.5" y="1190">T</text><text x="1184.5" y="1190">F</text><text x="1219.5" y="1190">T</text>
<text x="1114.5" y="1225">T</text><text x="1149.5" y="1225">F</text><text x="1184.5" y="1225">T</text><text x="1219.5" y="1225">F</text>
</g>
<text x="1168" y="1265" text-anchor="middle" font-size="22">True/False Table</text>
<rect x="1262" y="1153" width="20" height="6" fill="#111"/><rect x="1262" y="1166" width="20" height="6" fill="#111"/>

<g font-size="22" text-anchor="middle" fill="#111">
<rect x="1307" y="1095" width="35" height="35" fill="#FF0000"/>
<rect x="1342" y="1095" width="35" height="35" fill="#FBE5D6"/><text x="1359.5" y="1121">4</text>
<rect x="1377" y="1095" width="35" height="35" fill="#FF0000"/>
<rect x="1412" y="1095" width="35" height="35" fill="#FFF2CC"/><text x="1429.5" y="1121">5</text>
<rect x="1307" y="1130" width="35" height="35" fill="#A3EBCC"/><text x="1324.5" y="1156">1</text>
<rect x="1342" y="1130" width="35" height="35" fill="#FF0000"/>
<rect x="1377" y="1130" width="35" height="35" fill="#FFF2CC"/><text x="1394.5" y="1156">5</text>
<rect x="1412" y="1130" width="35" height="35" fill="#FF0000"/>
<rect x="1307" y="1165" width="35" height="35" fill="#FF0000"/>
<rect x="1342" y="1165" width="35" height="35" fill="#BFBFBF"/><text x="1359.5" y="1191">2</text>
<rect x="1377" y="1165" width="35" height="35" fill="#FF0000"/>
<rect x="1412" y="1165" width="35" height="35" fill="#E2F0D9"/><text x="1429.5" y="1191">7</text>
<rect x="1307" y="1200" width="35" height="35" fill="#A3EBCC"/><text x="1324.5" y="1226">1</text>
<rect x="1342" y="1200" width="35" height="35" fill="#FF0000"/>
<rect x="1377" y="1200" width="35" height="35" fill="#A3EBCC"/><text x="1394.5" y="1226">1</text>
<rect x="1412" y="1200" width="35" height="35" fill="#FF0000"/>
</g>
<text x="1376" y="1263" text-anchor="middle" font-size="22" fill="#FF0000">Visual Cues</text>

<path d="M1167,706 V848" stroke="#5B9BD5" stroke-width="5" fill="none" marker-end="url(#mb)"/>
<path d="M1343,706 V779 H1167" stroke="#5B9BD5" stroke-width="5" fill="none"/>
<text transform="translate(1156,773) rotate(-90)" text-anchor="middle" font-size="23" font-weight="bold">Training</text>
<text x="1173" y="806" font-size="22">Supervisory Label</text>
<rect x="1088" y="852" width="150" height="105" rx="17" fill="#A9D18E"/>
<text x="1163" y="896" text-anchor="middle" font-size="25" font-weight="bold" fill="#1a1a1a">Token</text>
<text x="1163" y="928" text-anchor="middle" font-size="25" font-weight="bold" fill="#1a1a1a">Classifier</text>
<path d="M1002,1093 V906 H1084" stroke="#FFC000" stroke-width="5" fill="none" marker-end="url(#my)"/>
<text transform="translate(992,998) rotate(-90)" text-anchor="middle" font-size="23" font-weight="bold">Testing</text>
<path d="M1167,957 V1090" stroke="#FFC000" stroke-width="5" fill="none" marker-end="url(#my)"/>
<g text-anchor="middle" font-size="20" font-weight="bold" transform="translate(1130,1021) rotate(-90)"><text y="0">Predicting</text><text y="24">Ture/False</text></g>
<path d="M1379,1093 V893 H1446" stroke="#FFC000" stroke-width="5" fill="none" marker-end="url(#my)"/>
<text transform="translate(1368,991) rotate(-90)" text-anchor="middle" font-size="23" font-weight="bold">Testing</text>

<rect x="1451" y="761" width="227" height="265" fill="#E2F0D9"/>
<polygon points="1466,779 1663,779 1625,887 1505,887" fill="#A9D18E" stroke="#5B9BD5" stroke-width="4"/>
<polygon points="1505,904 1625,904 1663,1013 1466,1013" fill="#A9D18E" stroke="#5B9BD5" stroke-width="4"/>
<g text-anchor="middle" font-size="26" font-weight="bold" fill="#1a1a1a">
<text x="1565" y="829">Inpainting</text><text x="1565" y="861">Encoder</text>
<text x="1565" y="952">Inpainting</text><text x="1565" y="984">Decoder</text>
</g>
<text x="1565" y="745" text-anchor="middle" font-size="23" font-weight="bold">Training</text>
<line x1="1565" y1="706" x2="1565" y2="775" stroke="#5B9BD5" stroke-width="5" marker-end="url(#mb)"/>

<line x1="1730" y1="736" x2="1730" y2="1058" stroke="#7F7F7F" stroke-width="3" stroke-dasharray="20 10" marker-start="url(#mg)" marker-end="url(#mg)"/>
<text transform="translate(1748,888) rotate(90)" text-anchor="middle" font-size="22" font-weight="bold">Shared</text>

<text x="1565" y="1062" text-anchor="middle" font-size="22" font-weight="bold">Completion</text>
<line x1="1565" y1="1029" x2="1565" y2="1089" stroke="#FFC000" stroke-width="5" marker-end="url(#my)"/>
<g font-size="22" text-anchor="middle" fill="#111" stroke-width="1">
<rect x="1497" y="1095" width="35" height="35" fill="#B4C7E7" stroke="#e6e6e6"/><text x="1514.5" y="1121">3</text>
<rect x="1532" y="1095" width="35" height="35" fill="#FBE5D6" stroke="#e6e6e6"/><text x="1549.5" y="1121">4</text>
<rect x="1567" y="1095" width="35" height="35" fill="#FBE5D6" stroke="#e6e6e6"/><text x="1584.5" y="1121">4</text>
<rect x="1602" y="1095" width="35" height="35" fill="#FFF2CC" stroke="#e6e6e6"/><text x="1619.5" y="1121">5</text>
<rect x="1497" y="1130" width="35" height="35" fill="#A3EBCC" stroke="#e6e6e6"/><text x="1514.5" y="1156">1</text>
<rect x="1532" y="1130" width="35" height="35" fill="#BFBFBF" stroke="#e6e6e6"/><text x="1549.5" y="1156">2</text>
<rect x="1567" y="1130" width="35" height="35" fill="#FFF2CC" stroke="#e6e6e6"/><text x="1584.5" y="1156">5</text>
<rect x="1602" y="1130" width="35" height="35" fill="#E2F0D9" stroke="#e6e6e6"/><text x="1619.5" y="1156">7</text>
<rect x="1497" y="1165" width="35" height="35" fill="#A3EBCC" stroke="#e6e6e6"/><text x="1514.5" y="1191">1</text>
<rect x="1532" y="1165" width="35" height="35" fill="#BFBFBF" stroke="#e6e6e6"/><text x="1549.5" y="1191">2</text>
<rect x="1567" y="1165" width="35" height="35" fill="#FBE5D6" stroke="#e6e6e6"/><text x="1584.5" y="1191">4</text>
<rect x="1602" y="1165" width="35" height="35" fill="#E2F0D9" stroke="#e6e6e6"/><text x="1619.5" y="1191">7</text>
<rect x="1497" y="1200" width="35" height="35" fill="#A3EBCC" stroke="#e6e6e6"/><text x="1514.5" y="1226">1</text>
<rect x="1532" y="1200" width="35" height="35" fill="#B4C7E7" stroke="#e6e6e6"/><text x="1549.5" y="1226">3</text>
<rect x="1567" y="1200" width="35" height="35" fill="#A3EBCC" stroke="#e6e6e6"/><text x="1584.5" y="1226">1</text>
<rect x="1602" y="1200" width="35" height="35" fill="#E2F0D9" stroke="#e6e6e6"/><text x="1619.5" y="1226">7</text>
</g>
<line x1="1639" y1="1159" x2="1672" y2="1159" stroke="#FFC000" stroke-width="5" marker-end="url(#my)"/>
<polygon points="1678,1101 1784,1064 1784,1257 1678,1218" fill="#BDD7EE"/>
<g transform="translate(1733,1160) rotate(90)" font-size="27" font-weight="bold" text-anchor="middle" fill="#111"><text y="-6">Image</text><text y="24">Decoder</text></g>
<line x1="1786" y1="1160" x2="1824" y2="1160" stroke="#FFC000" stroke-width="5" marker-end="url(#my)"/>
<use href="#fish" x="1827" y="1083" width="150" height="150"/>
<use href="#fish" x="1843" y="1097" width="149" height="149"/>
<text x="1916" y="1276" text-anchor="middle" font-size="22">Reconstructed</text>
<text x="1916" y="1302" text-anchor="middle" font-size="22">Image</text>

<rect x="2041" y="495" width="755" height="225" fill="none" stroke="#ED7D31" stroke-width="3"/>
<g font-size="31" font-style="italic" fill="#111">
<text x="2053" y="533" textLength="709" lengthAdjust="spacingAndGlyphs">The learning strategy of <tspan font-weight="bold">completion mechanism</tspan></text>
<text x="2053" y="576" textLength="707" lengthAdjust="spacingAndGlyphs">is straightforward: we use a pre-trained VQ-VAE</text>
<text x="2053" y="619" textLength="709" lengthAdjust="spacingAndGlyphs">to produce quantized latent variables of images,</text>
<text x="2053" y="662" textLength="715" lengthAdjust="spacingAndGlyphs">and sample random prototype vectors to replace</text>
<text x="2053" y="705" textLength="455" lengthAdjust="spacingAndGlyphs">these encoded latent variables.</text>
</g>
<use href="#star" x="2050" y="752"/>
<use href="#star" x="2050" y="1074"/>
<use href="#star" x="2050" y="1197"/>
<g font-size="34" fill="#111" stroke="#111" stroke-width="0.6">
<text x="2090" y="762" textLength="667" lengthAdjust="spacingAndGlyphs">The visual decoding process of VQ-fMRI</text>
<text x="2090" y="805" textLength="357" lengthAdjust="spacingAndGlyphs">can be formulated as:</text>
<text x="2100" y="1084" textLength="593" lengthAdjust="spacingAndGlyphs">Visual cues and decoding deviation:</text>
<text x="2100" y="1207" textLength="262" lengthAdjust="spacingAndGlyphs">SR pre-training:</text>
</g>

<!-- ================= RESULTS ================= -->
<g font-size="24" font-weight="bold" text-anchor="middle" fill="#111">
<text x="2938" y="537">Stimulus</text>
<text x="3093" y="528">Shen et al.</text><text x="3093" y="557">2019b</text>
<text x="3249" y="528">Ozcelik et al.</text><text x="3249" y="557">2022</text>
<text x="3405" y="528">Beliy et al.</text><text x="3405" y="557">2019</text>
<text x="3559" y="528">Gaziv et al.</text><text x="3559" y="557">2022</text>
<text x="3716" y="537">Ours</text>
</g>

<svg x="2863" y="567" width="150" height="150" viewBox="0 0 100 100" preserveAspectRatio="none"><rect width="100" height="100" fill="#5b88cf"/><ellipse cx="82" cy="62" rx="22" ry="14" fill="#eef2f8" filter="url(#b4)"/><ellipse cx="70" cy="20" rx="14" ry="8" fill="#dfe8f4" filter="url(#b4)"/><polygon points="0,0 38,0 70,100 0,100" fill="#c7baa3"/><polygon points="22,38 48,46 60,100 30,100" fill="#2a2521"/><rect x="72" y="18" width="11" height="82" fill="#8f8c86"/><rect x="70" y="15" width="15" height="5" fill="#6a6862"/></svg>
<svg x="3018" y="567" width="150" height="150" viewBox="0 0 100 100" preserveAspectRatio="none"><rect width="100" height="100" fill="#cbc8d6"/><ellipse cx="50" cy="52" rx="32" ry="34" fill="#7a6882" filter="url(#b4)"/><ellipse cx="50" cy="70" rx="28" ry="16" fill="#4b4049" filter="url(#b4)"/></svg>
<svg x="3173" y="567" width="150" height="150" viewBox="0 0 100 100" preserveAspectRatio="none"><rect width="100" height="100" fill="#dcdcdc"/><rect y="78" width="100" height="22" fill="#574840"/><rect x="58" y="10" width="16" height="65" fill="#8c94a4"/><ellipse cx="45" cy="52" rx="11" ry="28" fill="#2a2a30"/><circle cx="45" cy="22" r="6" fill="#b09080"/></svg>
<svg x="3328" y="567" width="151" height="150" viewBox="0 0 100 100" preserveAspectRatio="none"><rect width="100" height="100" fill="#a9aeb2"/><ellipse cx="50" cy="55" rx="24" ry="36" fill="#6e6e74" filter="url(#b6)"/></svg>
<svg x="3484" y="567" width="151" height="150" viewBox="0 0 100 100" preserveAspectRatio="none"><rect width="100" height="100" fill="#9b9996"/><ellipse cx="55" cy="60" rx="18" ry="34" fill="#3e3c3c" filter="url(#b4)"/><ellipse cx="40" cy="25" rx="10" ry="12" fill="#6a6868" filter="url(#b4)"/></svg>
<svg x="3640" y="567" width="151" height="150" viewBox="0 0 100 100" preserveAspectRatio="none"><rect width="100" height="100" fill="#d2d5da"/><ellipse cx="75" cy="22" rx="35" ry="30" fill="#3f6cba" filter="url(#b6)"/><ellipse cx="45" cy="62" rx="17" ry="22" fill="#262626" filter="url(#b4)"/></svg>
<svg x="2863" y="722" width="150" height="150" viewBox="0 0 100 100" preserveAspectRatio="none"><rect width="100" height="100" fill="#0d0d0d"/><rect x="18" y="28" width="16" height="64" fill="#b83048"/><rect x="20" y="40" width="12" height="20" fill="#3a5ac8"/><rect x="42" y="22" width="16" height="70" fill="#c83a3a"/><rect x="44" y="50" width="12" height="22" fill="#3a58d0"/><rect x="66" y="28" width="16" height="64" fill="#b03850"/><rect x="68" y="55" width="12" height="18" fill="#4060d0"/><rect x="48" y="8" width="6" height="10" fill="#c04040"/></svg>
<svg x="3018" y="722" width="150" height="150" viewBox="0 0 100 100" preserveAspectRatio="none"><rect width="100" height="100" fill="#b3c7dc"/><rect y="72" width="100" height="28" fill="#8c9a6a" filter="url(#b4)"/><rect x="28" y="12" width="46" height="80" rx="12" fill="#a84a2c" filter="url(#b4)"/></svg>
<svg x="3173" y="722" width="150" height="150" viewBox="0 0 100 100" preserveAspectRatio="none"><rect width="100" height="100" fill="#c8d6e4"/><rect width="34" height="100" fill="#3d5a2e"/><rect x="66" y="55" width="34" height="45" fill="#4a6a3a"/><rect x="36" y="10" width="26" height="85" fill="#8a8284"/><rect x="40" y="30" width="18" height="50" fill="#b06050" filter="url(#b4)"/></svg>
<svg x="3328" y="722" width="151" height="150" viewBox="0 0 100 100" preserveAspectRatio="none"><rect width="100" height="100" fill="#8b887a"/><ellipse cx="50" cy="50" rx="28" ry="40" fill="#6c4c3c" filter="url(#b6)"/><ellipse cx="60" cy="60" rx="12" ry="18" fill="#5060a0" filter="url(#b6)"/></svg>
<svg x="3484" y="722" width="151" height="150" viewBox="0 0 100 100" preserveAspectRatio="none"><rect width="100" height="100" fill="#5b8a95"/><rect y="70" width="100" height="30" fill="#4a6a40" filter="url(#b4)"/><polygon points="30,100 45,10 65,20 70,100" fill="#b8401c" filter="url(#b4)"/><ellipse cx="55" cy="50" rx="8" ry="12" fill="#e0b040" filter="url(#b4)"/></svg>
<svg x="3640" y="722" width="151" height="150" viewBox="0 0 100 100" preserveAspectRatio="none"><rect width="100" height="100" fill="#111"/><ellipse cx="50" cy="55" rx="20" ry="30" fill="#c49c84" filter="url(#b6)"/><ellipse cx="50" cy="50" rx="8" ry="20" fill="#e8d0c0" filter="url(#b4)"/></svg>
<svg x="2863" y="876" width="150" height="150" viewBox="0 0 100 100" preserveAspectRatio="none"><rect width="100" height="100" fill="#262c33"/><ellipse cx="40" cy="78" rx="35" ry="6" fill="#3a4048" filter="url(#b4)"/><ellipse cx="35" cy="58" rx="30" ry="11" fill="#f2f2f2"/><path d="M55,55 Q65,30 72,32 Q80,34 78,40" stroke="#f2f2f2" stroke-width="6" fill="none"/></svg>
<svg x="3018" y="876" width="150" height="150" viewBox="0 0 100 100" preserveAspectRatio="none"><rect width="100" height="100" fill="#2e5878"/><ellipse cx="55" cy="40" rx="32" ry="22" fill="#a6c6d8" filter="url(#b6)"/><ellipse cx="40" cy="78" rx="28" ry="9" fill="#6a5a4a" filter="url(#b4)"/></svg>
<svg x="3173" y="876" width="150" height="150" viewBox="0 0 100 100" preserveAspectRatio="none"><rect width="100" height="100" fill="#4a4a48"/><ellipse cx="50" cy="50" rx="42" ry="5" fill="#e6e6e6"/><ellipse cx="22" cy="47" rx="6" ry="4" fill="#eee"/></svg>
<svg x="3328" y="876" width="151" height="150" viewBox="0 0 100 100" preserveAspectRatio="none"><rect width="100" height="100" fill="#6b5f50"/><ellipse cx="35" cy="52" rx="28" ry="26" fill="#d6d6ce" filter="url(#b6)"/><ellipse cx="75" cy="40" rx="14" ry="20" fill="#5a3a2a" filter="url(#b6)"/></svg>
<svg x="3484" y="876" width="151" height="150" viewBox="0 0 100 100" preserveAspectRatio="none"><rect width="100" height="100" fill="#33451f"/><ellipse cx="55" cy="55" rx="35" ry="30" fill="#4d6a28" filter="url(#b6)"/><ellipse cx="58" cy="55" rx="8" ry="7" fill="#b0a050" filter="url(#b4)"/></svg>
<svg x="3640" y="876" width="151" height="150" viewBox="0 0 100 100" preserveAspectRatio="none"><rect width="100" height="100" fill="#3b4535"/><ellipse cx="28" cy="55" rx="30" ry="18" fill="#ececec" filter="url(#b4)"/><ellipse cx="80" cy="45" rx="15" ry="20" fill="#2a3028" filter="url(#b6)"/></svg>
<svg x="2863" y="1031" width="150" height="150" viewBox="0 0 100 100" preserveAspectRatio="none"><rect width="100" height="100" fill="#e6eaf0"/><ellipse cx="50" cy="55" rx="44" ry="26" fill="#8898a8"/><ellipse cx="55" cy="62" rx="30" ry="14" fill="#4a5868"/><path d="M52,60 Q48,35 62,22 Q68,40 64,62 Z" fill="#111"/><ellipse cx="60" cy="40" rx="4" ry="7" fill="#fff"/></svg>
<svg x="3018" y="1031" width="150" height="150" viewBox="0 0 100 100" preserveAspectRatio="none"><rect width="100" height="100" fill="#b0bfcf"/><ellipse cx="55" cy="50" rx="28" ry="14" fill="#7d8a98" filter="url(#b4)"/><rect y="65" width="100" height="35" fill="#c4d0dc" filter="url(#b4)"/></svg>
<svg x="3173" y="1031" width="150" height="150" viewBox="0 0 100 100" preserveAspectRatio="none"><rect width="100" height="100" fill="#6b894c"/><rect width="100" height="22" fill="#aab8b8"/><ellipse cx="45" cy="55" rx="38" ry="6" fill="#3c3c3a"/></svg>
<svg x="3328" y="1031" width="151" height="150" viewBox="0 0 100 100" preserveAspectRatio="none"><rect width="100" height="100" fill="#8e8c88"/><ellipse cx="55" cy="50" rx="22" ry="18" fill="#5e4a40" filter="url(#b6)"/><ellipse cx="45" cy="25" rx="8" ry="8" fill="#2a2420" filter="url(#b4)"/></svg>
<svg x="3484" y="1031" width="151" height="150" viewBox="0 0 100 100" preserveAspectRatio="none"><rect width="100" height="100" fill="#3a3c40"/><ellipse cx="60" cy="55" rx="25" ry="25" fill="#17191c" filter="url(#b4)"/><ellipse cx="20" cy="50" rx="20" ry="40" fill="#55575c" filter="url(#b6)"/></svg>
<svg x="3640" y="1031" width="151" height="150" viewBox="0 0 100 100" preserveAspectRatio="none"><rect width="100" height="100" fill="#bcc4cc"/><ellipse cx="55" cy="52" rx="14" ry="26" fill="#3a3430" filter="url(#b4)"/></svg>
<svg x="2863" y="1186" width="150" height="150" viewBox="0 0 100 100" preserveAspectRatio="none"><rect width="100" height="100" fill="#c9a472"/><rect width="100" height="8" fill="#b0a090"/><ellipse cx="30" cy="55" rx="30" ry="15" fill="#9a6e44"/><ellipse cx="80" cy="50" rx="20" ry="16" fill="#a0744a"/><ellipse cx="22" cy="50" rx="12" ry="8" fill="#3c3c3c"/></svg>
<svg x="3018" y="1186" width="150" height="150" viewBox="0 0 100 100" preserveAspectRatio="none"><rect width="100" height="100" fill="#b3a595"/><rect width="100" height="25" fill="#d2d2d2" filter="url(#b4)"/><ellipse cx="45" cy="62" rx="40" ry="14" fill="#8a6a52" filter="url(#b6)"/></svg>
<svg x="3173" y="1186" width="150" height="150" viewBox="0 0 100 100" preserveAspectRatio="none"><rect width="100" height="100" fill="#baa98a"/><rect width="100" height="14" fill="#8c8e92"/><ellipse cx="50" cy="52" rx="30" ry="10" fill="#a68462"/><rect x="28" y="55" width="3" height="20" fill="#8a6a50"/><rect x="70" y="55" width="3" height="20" fill="#8a6a50"/></svg>
<svg x="3328" y="1186" width="151" height="150" viewBox="0 0 100 100" preserveAspectRatio="none"><rect width="100" height="100" fill="#857565"/><ellipse cx="30" cy="55" rx="20" ry="18" fill="#5a4030" filter="url(#b6)"/><ellipse cx="75" cy="60" rx="18" ry="16" fill="#bfb0a0" filter="url(#b6)"/></svg>
<svg x="3484" y="1186" width="151" height="150" viewBox="0 0 100 100" preserveAspectRatio="none"><rect width="100" height="100" fill="#6f6f5f"/><path d="M0,50 Q30,30 60,45 T100,40 L100,75 Q60,85 0,70Z" fill="#2e2e2a" filter="url(#b4)"/></svg>
<svg x="3640" y="1186" width="151" height="150" viewBox="0 0 100 100" preserveAspectRatio="none"><rect width="100" height="100" fill="#c4ae8c"/><rect width="100" height="35" fill="#e2dad2" filter="url(#b6)"/><ellipse cx="25" cy="62" rx="14" ry="12" fill="#4a3a22" filter="url(#b4)"/><ellipse cx="72" cy="55" rx="12" ry="16" fill="#4a3a22" filter="url(#b4)"/></svg>
<svg x="2863" y="1340" width="150" height="150" viewBox="0 0 100 100" preserveAspectRatio="none"><rect width="100" height="100" fill="#5a7fb2"/><rect y="50" width="100" height="50" fill="#6f92c0" filter="url(#b6)"/><ellipse cx="50" cy="40" rx="46" ry="4" fill="#dcdcdc"/><ellipse cx="55" cy="40" rx="16" ry="6" fill="#f0f0f0"/><rect x="30" y="44" width="4" height="8" fill="#333"/><rect x="68" y="44" width="4" height="8" fill="#333"/></svg>
<svg x="3018" y="1340" width="150" height="150" viewBox="0 0 100 100" preserveAspectRatio="none"><rect width="100" height="100" fill="#b6c7d7"/><ellipse cx="50" cy="50" rx="38" ry="7" fill="#3c2c2c" filter="url(#b4)"/></svg>
<svg x="3173" y="1340" width="150" height="150" viewBox="0 0 100 100" preserveAspectRatio="none"><rect width="100" height="100" fill="#c9d1d7"/><ellipse cx="50" cy="50" rx="40" ry="6" fill="#6e706c"/><polygon points="30,50 42,38 46,50" fill="#7a7c78"/><polygon points="58,50 70,38 74,50" fill="#7a7c78"/></svg>
<svg x="3328" y="1340" width="151" height="150" viewBox="0 0 100 100" preserveAspectRatio="none"><rect width="100" height="100" fill="#a7b2ba"/><ellipse cx="48" cy="48" rx="36" ry="8" fill="#4a3e38" filter="url(#b6)"/></svg>
<svg x="3484" y="1340" width="151" height="150" viewBox="0 0 100 100" preserveAspectRatio="none"><rect width="100" height="100" fill="#e3ddd3"/><ellipse cx="50" cy="50" rx="40" ry="7" fill="#8e5c42" filter="url(#b4)"/></svg>
<svg x="3640" y="1340" width="151" height="150" viewBox="0 0 100 100" preserveAspectRatio="none"><rect width="100" height="100" fill="#4a82cc"/><rect y="60" width="100" height="40" fill="#6b9bda" filter="url(#b6)"/><ellipse cx="50" cy="48" rx="42" ry="8" fill="#262c3a" filter="url(#b4)"/></svg>
<svg x="2863" y="1496" width="150" height="150" viewBox="0 0 100 100" preserveAspectRatio="none"><rect width="100" height="100" fill="#caa87c"/><circle cx="50" cy="50" r="42" fill="#5851a6"/><ellipse cx="42" cy="40" rx="22" ry="16" fill="#8a80d0" filter="url(#b4)"/><circle cx="25" cy="75" r="4" fill="#222"/></svg>
<svg x="3018" y="1496" width="150" height="150" viewBox="0 0 100 100" preserveAspectRatio="none"><rect width="100" height="100" fill="#cdd1d9"/><ellipse cx="50" cy="52" rx="38" ry="40" fill="#3d3f50" filter="url(#b4)"/><ellipse cx="50" cy="70" rx="25" ry="18" fill="#2a1a20" filter="url(#b4)"/></svg>
<svg x="3173" y="1496" width="150" height="150" viewBox="0 0 100 100" preserveAspectRatio="none"><rect width="100" height="100" fill="#ebebeb"/><circle cx="52" cy="50" r="40" fill="#b8b8b8"/><circle cx="52" cy="50" r="32" fill="#d24a3a"/><circle cx="52" cy="55" r="10" fill="#f0b0a0"/></svg>
<svg x="3328" y="1496" width="151" height="150" viewBox="0 0 100 100" preserveAspectRatio="none"><rect width="100" height="100" fill="#c0c4c8"/><ellipse cx="50" cy="55" rx="40" ry="40" fill="#8a8a6a" filter="url(#b6)"/><ellipse cx="50" cy="60" rx="20" ry="16" fill="#3e2e22" filter="url(#b6)"/></svg>
<svg x="3484" y="1496" width="151" height="150" viewBox="0 0 100 100" preserveAspectRatio="none"><rect width="100" height="100" fill="#dcd6d6"/><ellipse cx="50" cy="50" rx="38" ry="40" fill="#a07278" filter="url(#b4)"/><ellipse cx="50" cy="45" rx="20" ry="14" fill="#7a4a50" filter="url(#b4)"/></svg>
<svg x="3640" y="1496" width="151" height="150" viewBox="0 0 100 100" preserveAspectRatio="none"><rect width="100" height="100" fill="#d4d8dc"/><ellipse cx="40" cy="55" rx="36" ry="30" fill="#2b3242" filter="url(#b6)"/><ellipse cx="45" cy="55" rx="12" ry="10" fill="#90a8c8" filter="url(#b4)"/></svg>
<svg x="2863" y="1651" width="150" height="150" viewBox="0 0 100 100" preserveAspectRatio="none"><rect width="100" height="100" fill="#d6d6d6"/><path d="M0,20 L60,30 L100,50 L100,70 L50,60 L0,45Z" fill="#1b1b1b"/><path d="M10,30 L50,38" stroke="#fff" stroke-width="4"/><rect y="80" width="100" height="20" fill="#e8e8e8"/></svg>
<svg x="3018" y="1651" width="150" height="150" viewBox="0 0 100 100" preserveAspectRatio="none"><rect width="100" height="100" fill="#bdcbdb"/><ellipse cx="55" cy="50" rx="34" ry="30" fill="#2c3c5a" filter="url(#b4)"/></svg>
<svg x="3173" y="1651" width="150" height="150" viewBox="0 0 100 100" preserveAspectRatio="none"><rect width="100" height="100" fill="#cfcfcf"/><rect x="15" y="35" width="70" height="30" rx="8" fill="#2a2a2a"/><rect x="30" y="30" width="30" height="14" fill="#f0f0f0"/><circle cx="30" cy="72" r="8" fill="#111"/><circle cx="75" cy="72" r="8" fill="#111"/></svg>
<svg x="3328" y="1651" width="151" height="150" viewBox="0 0 100 100" preserveAspectRatio="none"><rect width="100" height="100" fill="#a4a6a4"/><ellipse cx="45" cy="35" rx="35" ry="18" fill="#5e5e54" filter="url(#b6)"/><ellipse cx="50" cy="80" rx="20" ry="10" fill="#3a4a40" filter="url(#b6)"/></svg>
<svg x="3484" y="1651" width="151" height="150" viewBox="0 0 100 100" preserveAspectRatio="none"><rect width="100" height="100" fill="#ebebeb"/><path d="M0,5 L60,15 L100,45 L80,60 L50,55 L40,85 L30,60 L0,40Z" fill="#4a2a2c" filter="url(#b4)"/></svg>
<svg x="3640" y="1651" width="151" height="150" viewBox="0 0 100 100" preserveAspectRatio="none"><rect width="100" height="100" fill="#d6d6d6"/><ellipse cx="45" cy="42" rx="38" ry="22" fill="#3a2a20" filter="url(#b4)"/><ellipse cx="85" cy="60" rx="15" ry="18" fill="#5a3a28" filter="url(#b4)"/></svg>

<!-- table (shifted up 8) -->
<g transform="translate(0,-8)">
<line x1="2882" y1="1822" x2="3762" y2="1822" stroke="#111" stroke-width="3"/>
<line x1="2882" y1="1877" x2="3762" y2="1877" stroke="#111" stroke-width="2"/>
<g stroke="#9a9a9a" stroke-width="1.5"><line x1="2882" y1="1921" x2="3762" y2="1921"/><line x1="2882" y1="1967" x2="3762" y2="1967"/><line x1="2882" y1="2013" x2="3762" y2="2013"/><line x1="2882" y1="2059" x2="3762" y2="2059"/></g>
<line x1="2882" y1="2110" x2="3762" y2="2110" stroke="#111" stroke-width="3"/>
<line x1="3183" y1="1822" x2="3183" y2="2110" stroke="#111" stroke-width="2"/>
<g font-family="Liberation Serif, serif" font-size="29" text-anchor="middle" fill="#111">
<text x="3032" y="1862" font-weight="bold">Method</text>
<text x="3285" y="1862" font-weight="bold">SSIM ↑</text>
<text x="3473" y="1862" font-weight="bold">PSNR ↑</text>
<text x="3661" y="1862" font-weight="bold">PCC ↑</text>
<g fill="#1F3A8A">
<text x="3032" y="1907" textLength="241" lengthAdjust="spacingAndGlyphs">(Shen et al., 2019b)</text>
<text x="3032" y="1953" textLength="259" lengthAdjust="spacingAndGlyphs">(Ozcelik et al., 2022)</text>
<text x="3032" y="1999" textLength="229" lengthAdjust="spacingAndGlyphs">(Beliy et al., 2019)</text>
<text x="3032" y="2045" textLength="236" lengthAdjust="spacingAndGlyphs">(Gaziv et al., 2022)</text>
</g>
<text x="3032" y="2091" font-weight="bold">Ours</text>
<text x="3285" y="1907" textLength="161" lengthAdjust="spacingAndGlyphs">0.413±0.154</text>
<text x="3285" y="1953" textLength="161" lengthAdjust="spacingAndGlyphs">0.385±0.163</text>
<text x="3285" y="1999" textLength="161" lengthAdjust="spacingAndGlyphs">0.432±0.162</text>
<text x="3285" y="2045" textLength="161" lengthAdjust="spacingAndGlyphs">0.372±0.155</text>
<text x="3285" y="2091" font-weight="bold" textLength="161" lengthAdjust="spacingAndGlyphs">0.492±0.125</text>
<text x="3473" y="1907" textLength="129" lengthAdjust="spacingAndGlyphs">10.7±1.97</text>
<text x="3473" y="1953" textLength="129" lengthAdjust="spacingAndGlyphs">10.0±2.42</text>
<text x="3473" y="1999" textLength="129" lengthAdjust="spacingAndGlyphs">12.2±2.39</text>
<text x="3473" y="2045" textLength="129" lengthAdjust="spacingAndGlyphs">10.3±2.91</text>
<text x="3473" y="2091" font-weight="bold" textLength="129" lengthAdjust="spacingAndGlyphs">13.4±1.76</text>
<text x="3661" y="1907" textLength="162" lengthAdjust="spacingAndGlyphs">0.482±0.176</text>
<text x="3661" y="1953" textLength="162" lengthAdjust="spacingAndGlyphs">0.241±0.131</text>
<text x="3661" y="1999" textLength="162" lengthAdjust="spacingAndGlyphs">0.429±0.149</text>
<text x="3661" y="2045" textLength="162" lengthAdjust="spacingAndGlyphs">0.424±0.164</text>
<text x="3661" y="2091" font-weight="bold" textLength="162" lengthAdjust="spacingAndGlyphs">0.551±0.122</text>
</g>
</g>

<!-- ================= MOTIVATIONS ================= -->
<rect x="65" y="1471" width="997" height="240" rx="12" fill="#EEF2FA" stroke="#A3B5DC" stroke-width="3"/>
<text x="406" y="1507" text-anchor="middle" font-size="22" fill="#7F7F7F">What we see</text>
<text x="686" y="1507" text-anchor="middle" font-size="22" fill="#7F7F7F">What we <tspan fill="#70AD47" font-weight="bold">think</tspan> we see</text>
<text x="91" y="1572" font-size="29" font-weight="bold" fill="#8B4A3C" textLength="225" lengthAdjust="spacingAndGlyphs">Visual perception</text>
<text x="789" y="1573" font-size="29" font-weight="bold" fill="#6BA544" textLength="222" lengthAdjust="spacingAndGlyphs">Brain completion</text>
<rect x="325" y="1524" width="171" height="174" fill="#fff"/>
<path d="M405,1562 Q420,1570 425,1600 Q428,1630 412,1645 Q388,1648 382,1630 Q396,1615 398,1590 Z" fill="#151515"/>
<g fill="#444">
<rect x="330" y="1610" width="8" height="8"/><rect x="345" y="1620" width="8" height="8"/><rect x="338" y="1635" width="8" height="8"/><rect x="356" y="1645" width="8" height="8"/><rect x="372" y="1630" width="8" height="8"/><rect x="330" y="1655" width="8" height="8"/><rect x="350" y="1665" width="8" height="8"/><rect x="370" y="1660" width="8" height="8"/><rect x="388" y="1650" width="10" height="12"/><rect x="396" y="1668" width="10" height="12"/><rect x="362" y="1680" width="8" height="8"/><rect x="340" y="1680" width="6" height="6"/><rect x="380" y="1615" width="6" height="6"/><rect x="405" y="1645" width="8" height="10"/>
</g>
<text x="546" y="1589" text-anchor="middle" font-size="22" fill="#7F7F7F">imagine</text>
<line x1="505" y1="1609" x2="584" y2="1609" stroke="#666" stroke-width="2.5" marker-end="url(#mgr)"/>
<text x="546" y="1638" text-anchor="middle" font-size="22" fill="#7F7F7F">guess</text>
<rect x="598" y="1523" width="171" height="175" fill="#dfe3e8"/>
<ellipse cx="675" cy="1640" rx="65" ry="38" fill="#a8b2bc" filter="url(#b6)"/>
<path d="M690,1560 Q702,1580 702,1612 Q700,1642 686,1648 Q668,1642 668,1626 Q684,1600 690,1560 Z" fill="#1c1c1c"/>
<path d="M209,1605 Q212,1652 285,1656" stroke="#8B4A3C" stroke-width="2.5" fill="none" marker-end="url(#mbr)"/>
<path d="M874,1602 Q872,1650 798,1657" stroke="#70AD47" stroke-width="2.5" fill="none" marker-end="url(#mgn)"/>

<text x="121" y="1775" font-size="30" font-weight="bold">Image</text>
<rect x="83" y="1801" width="169" height="172" fill="#e2e7ee"/>
<ellipse cx="160" cy="1915" rx="75" ry="45" fill="#7c8896"/>
<ellipse cx="170" cy="1925" rx="55" ry="30" fill="#4f5b68"/>
<path d="M150,1938 Q145,1880 162,1845 Q180,1880 182,1938 Z" fill="#111"/>
<ellipse cx="168" cy="1880" rx="5" ry="12" fill="#fff"/>
<polygon points="274,1900 305,1900 305,1889 331,1911 305,1933 305,1922 274,1922" fill="#fff" stroke="#8FB0DE" stroke-width="3"/>

<g text-anchor="middle" font-size="22" fill="#111">
<text x="420" y="1764">selective</text><text x="420" y="1791">attention &amp; visual</text><text x="420" y="1818">encoding</text>
<text x="671" y="1753">prior knowledge &amp;</text><text x="671" y="1781">experience</text>
</g>
<text x="937" y="1761" text-anchor="middle" font-size="25" font-weight="bold" textLength="244" lengthAdjust="spacingAndGlyphs">Visual reconstruction</text>
<text x="937" y="1784" text-anchor="middle" font-size="16" font-weight="bold" textLength="170" lengthAdjust="spacingAndGlyphs">using only brain signals</text>

<path d="M418,1850 L418,1716" stroke="#B0896A" stroke-width="2" marker-end="url(#mt)"/>
<path d="M580,1810 Q590,1760 608,1716" stroke="#7A9CC6" stroke-width="2" fill="none" marker-end="url(#mt2)"/>
<path d="M668,1840 L672,1716" stroke="#7A9CC6" stroke-width="2" fill="none" marker-end="url(#mt2)"/>
<path d="M745,1850 Q742,1760 722,1716" stroke="#C8B080" stroke-width="2" fill="none" marker-end="url(#mt)"/>

<circle cx="437" cy="1913" r="58" fill="#E67E30" stroke="#F5C28E" stroke-width="6"/>
<ellipse cx="390" cy="1913" rx="14" ry="42" fill="#3B6EA5"/>
<ellipse cx="384" cy="1913" rx="8" ry="24" fill="#A8DCEB"/>
<path d="M420,1880 Q460,1900 480,1930 M440,1870 Q470,1890 488,1935" stroke="#A0401A" stroke-width="1.5" fill="none"/>
<path d="M490,1932 Q505,1944 528,1952" stroke="#F2C14E" stroke-width="7" fill="none"/>
<path d="M490,1938 Q505,1950 528,1958" stroke="#3B6EA5" stroke-width="2" fill="none"/>
<path d="M500,1948 Q600,2012 700,1962" stroke="#C9B27C" stroke-width="3" fill="none"/>
<ellipse cx="615" cy="1872" rx="58" ry="62" fill="#8FA8DE"/>
<ellipse cx="688" cy="1852" rx="55" ry="50" fill="#7FD3D0"/>
<ellipse cx="668" cy="1926" rx="70" ry="36" fill="#A6D17C"/>
<ellipse cx="738" cy="1898" rx="26" ry="48" fill="#E9C25E"/>
<ellipse cx="712" cy="1956" rx="36" ry="22" fill="#CFCFCF"/>
<path d="M702,1968 L708,1998" stroke="#bbb" stroke-width="9"/>
<path d="M725,1840 Q690,1818 652,1850" stroke="#2F5597" stroke-width="3" fill="none"/>
<path d="M745,1885 Q705,1856 678,1862" stroke="#2F5597" stroke-width="3" fill="none"/>
<path d="M638,1918 L742,1936" stroke="#8B4A3C" stroke-width="3"/>
<ellipse cx="745" cy="1906" rx="14" ry="58" fill="none" stroke="#C0392B" stroke-width="3"/>
<polygon points="778,1900 809,1900 809,1889 835,1911 809,1933 809,1922 778,1922" fill="#fff" stroke="#C0504D" stroke-width="3"/>
<rect x="854" y="1803" width="170" height="172" fill="url(#rg)"/>
<g fill="#2a2a2a">
<rect x="924" y="1828" width="8" height="10"/><rect x="928" y="1842" width="10" height="10"/><rect x="934" y="1856" width="8" height="12"/><rect x="926" y="1872" width="10" height="10"/><rect x="940" y="1878" width="8" height="10"/><rect x="916" y="1888" width="10" height="12"/><rect x="930" y="1894" width="12" height="10"/><rect x="946" y="1900" width="14" height="8"/><rect x="918" y="1906" width="10" height="10"/><rect x="936" y="1912" width="8" height="12"/><rect x="950" y="1914" width="10" height="8"/><rect x="922" y="1922" width="8" height="8"/></g>

<g font-size="38" fill="#111">
<text x="102" y="2033" textLength="916" lengthAdjust="spacingAndGlyphs">What we see is a combination of both the visual</text>
<text x="102" y="2085" textLength="888" lengthAdjust="spacingAndGlyphs">perceptions and the brain completion process.</text>
</g>
<g font-family="DejaVu Sans, sans-serif" font-size="34" fill="#ED7D31">
<text x="1086" y="1515">✓</text><text x="1088" y="1755">✓</text><text x="1088" y="1946">✓</text>
</g>
<g font-size="34" font-style="italic" fill="#111">
<text x="1128" y="1519" textLength="625" lengthAdjust="spacingAndGlyphs">Our visual perception will conjecture</text>
<text x="1086" y="1567" textLength="667" lengthAdjust="spacingAndGlyphs">the scene presented to the eyes by the</text>
<text x="1086" y="1614" textLength="644" lengthAdjust="spacingAndGlyphs">incoming stream of visual signals and</text>
<text x="1086" y="1662" textLength="340" lengthAdjust="spacingAndGlyphs">the past experience.</text>
<text x="1139" y="1759" textLength="535" lengthAdjust="spacingAndGlyphs">Using brain signals alone is not</text>
<text x="1084" y="1807" textLength="596" lengthAdjust="spacingAndGlyphs">sufficient to reconstruct the seeing</text>
<text x="1084" y="1855" textLength="416" lengthAdjust="spacingAndGlyphs">image comprehensively.</text>
<text x="1141" y="1951" textLength="640" lengthAdjust="spacingAndGlyphs">Therefore, we propose to reconstruct</text>
<text x="1084" y="2000" textLength="562" lengthAdjust="spacingAndGlyphs">seen images with both the visual</text>
<text x="1084" y="2049" textLength="633" lengthAdjust="spacingAndGlyphs">perception and the brain completion</text>
<text x="1084" y="2097" textLength="137" lengthAdjust="spacingAndGlyphs">process.</text>
</g>

<!-- ================= CONTRIBUTIONS ================= -->
<g fill="none" stroke="#ED7D31" stroke-width="2.5"><circle cx="1899" cy="1487" r="16"/><circle cx="1899" cy="1711" r="16"/><circle cx="1899" cy="1935" r="16"/></g>
<g font-size="24" fill="#ED7D31" text-anchor="middle"><text x="1899" y="1496">1</text><text x="1899" y="1720">2</text><text x="1899" y="1944">3</text></g>
<g font-size="38" font-style="italic" fill="#111" stroke="#111" stroke-width="0.7">
<text x="1935" y="1501" textLength="699" lengthAdjust="spacingAndGlyphs">We propose a novel VQ-fMRI, which</text>
<text x="1880" y="1552" textLength="669" lengthAdjust="spacingAndGlyphs">formulates visual reconstruction as</text>
<text x="1880" y="1603" textLength="879" lengthAdjust="spacingAndGlyphs">experience-based context completion guided</text>
<text x="1880" y="1654" textLength="669" lengthAdjust="spacingAndGlyphs">by visual cues from brain activities.</text>
<text x="1935" y="1725" textLength="820" lengthAdjust="spacingAndGlyphs">We propose a cross-modal inpainting self-</text>
<text x="1880" y="1776" textLength="892" lengthAdjust="spacingAndGlyphs">supervised framework, providing a foundation</text>
<text x="1880" y="1827" textLength="733" lengthAdjust="spacingAndGlyphs">for fulfilling decoding verification and</text>
<text x="1880" y="1878" textLength="395" lengthAdjust="spacingAndGlyphs">deviation correction.</text>
<text x="1935" y="1949" textLength="821" lengthAdjust="spacingAndGlyphs">The images reconstructed by our approach</text>
<text x="1880" y="2000" textLength="865" lengthAdjust="spacingAndGlyphs">are more faithful to the stimulus images with</text>
<text x="1880" y="2051" textLength="881" lengthAdjust="spacingAndGlyphs">better preserved low-level color textures, and</text>
<text x="1880" y="2102" textLength="628" lengthAdjust="spacingAndGlyphs">high-level semantic information.</text>
</g>
</svg>

<!-- equations -->
<div class="eq" style="left:2183px;top:834px;"><i>Z</i><span class="ss"><span><i>x</i></span><span>L</span></span> = <b>VQ</b><span class="bp">(</span><b>UNet</b><span class="bp">(</span>MLP(<i>x</i>)<span class="bp">)</span>; <i>Z</i><span class="sb"><i>L</i></span><span class="bp">)</span>,</div>
<div class="eq" style="left:2258px;top:916px;"><i>Z</i><span class="ss"><span><i>x</i></span><span><i>sr</i></span></span> = <b>F</b><span class="sb"><i>sr</i></span> <span class="bp">(</span><span style="border:3px solid #ED7D31;padding:0 3px"><b>F</b><span class="sb"><i>token</i></span>(<i>Z</i><span class="ss"><span><i>x</i></span><span>L</span></span>)</span><span class="bp">)</span>,</div>
<div class="eq" style="left:2349px;top:986px;"><i>y</i><span class="sp">*</span> = <b>D</b>(<i>Z</i><span class="ss"><span><i>x</i></span><span><i>sr</i></span></span>),</div>
<div class="eq" style="left:2115px;top:1104px;"><i>Z</i><span class="ss"><span><i>x</i></span><span>T</span></span> = <i>M</i><span class="sp"><i>x</i></span> ⊙ <i>Z</i><span class="sp"><i>x</i></span>&#160;&#160;&#160; <i>Z</i><span class="ss"><span><i>x</i></span><span>F</span></span> = (1 − <i>M</i><span class="sp"><i>x</i></span>) ⊙ <i>Z</i><span class="sp"><i>x</i></span></div>
<div class="eq" style="left:2118px;top:1228px;"><i>Z</i><span class="ss"><span><i>y</i></span><span><i>sr</i></span></span> = <b>VQ</b><span class="bp">(</span><b>F</b><span class="sb"><i>sr</i></span><span class="bp">(</span><b>VQ</b><span class="bp">(</span><b>E</b><span class="sb"><i>L</i></span>(<i>y</i> ↓); <i>Z</i><span class="sb"><i>L</i></span><span class="bp">)</span><span class="bp">)</span><span class="bp">)</span></div>

</div></body></html>
